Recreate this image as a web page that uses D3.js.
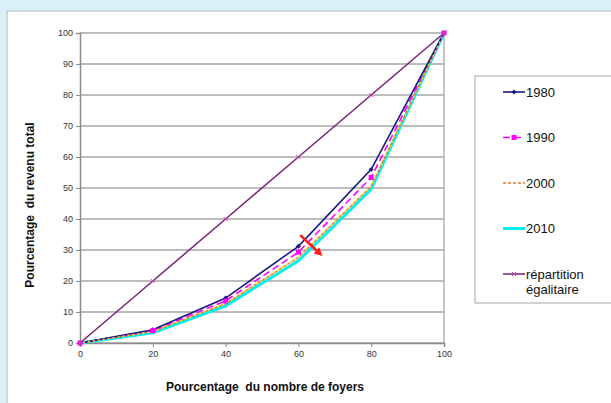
<!DOCTYPE html>
<html>
<head>
<meta charset="utf-8">
<script src="https://cdn.jsdelivr.net/npm/d3@7"></script>
<style>
  body { margin: 0; background: #d9f2f7; }
  svg { display: block; font-family: "Liberation Sans", Arial, sans-serif; }
</style>
</head>
<body>
<div class="chart"></div>
<script>
// data
const xValues = [0, 20, 40, 60, 80, 100];
const s1980 = [0, 4.3, 14.5, 31.2, 56, 100];
const s1990 = [0, 4.0, 13.6, 29.3, 53.4, 100];
const s2000 = [0, 3.7, 12.7, 27.6, 50.6, 100];
const s2010 = [0, 3.3, 12.0, 26.5, 49.6, 100];
const sEgal = [0, 20, 40, 60, 80, 100];
const yTicks = [0, 10, 20, 30, 40, 50, 60, 70, 80, 90, 100];
const xTicks = [0, 20, 40, 60, 80, 100];

let chart = {};

chart.series = [
  { name: "1980", values: s1980, color: "#1a1a80", width: 1.6, dash: null, marker: "diamond" },
  { name: "1990", values: s1990, color: "#ff00ff", width: 1.6, dash: "7,4", marker: "square" },
  { name: "2000", values: s2000, color: "#f07830", width: 1.4, dash: "3,2", marker: null },
  { name: "2010", values: s2010, color: "#00f0f0", width: 3, dash: null, marker: null },
  { name: "répartition\négalitaire", values: sEgal, color: "#7a1f74", width: 1.5, dash: null, marker: "tick" }
];

chart.width = 611;
chart.height = 403;

chart.svg = d3.select(".chart").append("svg")
  .attr("width", chart.width)
  .attr("height", chart.height);

// white panel
chart.svg.append("rect")
  .attr("x", 7).attr("y", 11)
  .attr("width", 620).attr("height", 410)
  .attr("fill", "#fff")
  .attr("stroke", "#b5b5b5");

chart.x = d3.scaleLinear().domain([0, 100]).range([80, 444]);
chart.y = d3.scaleLinear().domain([0, 100]).range([343, 33]);

// grid lines
chart.svg.append("g").selectAll("line")
  .data(yTicks).enter().append("line")
  .attr("x1", chart.x(0)).attr("x2", chart.x(100))
  .attr("y1", d => chart.y(d)).attr("y2", d => chart.y(d))
  .attr("stroke", "#a6a6a6").attr("stroke-width", 1.3);

// right border of plot
chart.svg.append("line")
  .attr("x1", chart.x(100)).attr("x2", chart.x(100))
  .attr("y1", chart.y(0)).attr("y2", chart.y(100))
  .attr("stroke", "#a6a6a6").attr("stroke-width", 1.3);

// axes
let yAxis = chart.svg.append("g")
  .attr("transform", `translate(${chart.x(0)},0)`)
  .call(d3.axisLeft(chart.y).tickValues(yTicks).tickSize(4).tickPadding(3));
let xAxis = chart.svg.append("g")
  .attr("transform", `translate(0,${chart.y(0)})`)
  .call(d3.axisBottom(chart.x).tickValues(xTicks).tickSize(4).tickPadding(4));

[xAxis, yAxis].forEach(a => {
  a.select(".domain").attr("stroke", "#8c8c8c").attr("stroke-width", 1.5);
  a.selectAll(".tick line").attr("stroke", "#8c8c8c");
  a.selectAll(".tick text").attr("font-size", 9).attr("fill", "#333")
    .attr("font-family", "Liberation Sans, Arial, sans-serif");
});

// lines
let line = d3.line()
  .x((d, i) => chart.x(xValues[i]))
  .y(d => chart.y(d));

chart.series.slice().reverse().forEach(s => {
  chart.svg.append("path")
    .datum(s.values)
    .attr("d", line)
    .attr("fill", "none")
    .attr("stroke", s.color)
    .attr("stroke-width", s.width)
    .attr("stroke-dasharray", s.dash);
});

// yellow fill between orange dashes of 2000
chart.svg.append("path")
  .datum(s2000)
  .attr("d", line)
  .attr("fill", "none")
  .attr("stroke", "#ffd700")
  .attr("stroke-width", 1.4)
  .attr("stroke-dasharray", "2,3")
  .attr("stroke-dashoffset", -3);

function drawMarker(g, s, cx, cy) {
  if (s.marker === "diamond") {
    g.append("path")
      .attr("d", `M${cx},${cy - 2.5}L${cx + 2.5},${cy}L${cx},${cy + 2.5}L${cx - 2.5},${cy}Z`)
      .attr("fill", s.color);
  } else if (s.marker === "square") {
    g.append("rect")
      .attr("x", cx - 2.5).attr("y", cy - 2.5)
      .attr("width", 5).attr("height", 5)
      .attr("fill", s.color);
  } else if (s.marker === "tick") {
    g.append("path")
      .attr("d", `M${cx - 2},${cy - 2}L${cx + 2},${cy + 2}M${cx - 2},${cy + 2}L${cx + 2},${cy - 2}`)
      .attr("stroke", "#c040b0").attr("stroke-width", 1);
  }
}

let markers = chart.svg.append("g");
chart.series.forEach(s => {
  s.values.forEach((v, i) => {
    drawMarker(markers, s, chart.x(xValues[i]), chart.y(v));
  });
});

// red arrow
chart.svg.append("defs").append("marker")
  .attr("id", "arrow")
  .attr("viewBox", "0 0 10 10")
  .attr("refX", 2).attr("refY", 5)
  .attr("markerWidth", 3.2).attr("markerHeight", 3.2)
  .attr("orient", "auto")
  .append("path")
  .attr("d", "M0,0L10,5L0,10Z")
  .attr("fill", "#ff1a1a");

chart.svg.append("line")
  .attr("x1", chart.x(60.5)).attr("y1", chart.y(34.8))
  .attr("x2", chart.x(65.3)).attr("y2", chart.y(29.5))
  .attr("stroke", "#ff1a1a")
  .attr("stroke-width", 2.6)
  .attr("marker-end", "url(#arrow)");

// axis titles
chart.svg.append("text")
  .attr("x", 265).attr("y", 391)
  .attr("text-anchor", "middle")
  .attr("font-size", 12).attr("font-weight", "bold")
  .attr("fill", "#111")
  .style("white-space", "pre")
  .text("Pourcentage  du nombre de foyers");

chart.svg.append("text")
  .attr("transform", "translate(34,205) rotate(-90)")
  .attr("text-anchor", "middle")
  .attr("font-size", 12).attr("font-weight", "bold")
  .attr("fill", "#111")
  .style("white-space", "pre")
  .text("Pourcentage  du revenu total");

// legend
let legend = chart.svg.append("g");
legend.append("rect")
  .attr("x", 475).attr("y", 76)
  .attr("width", 150).attr("height", 227)
  .attr("fill", "#fff")
  .attr("stroke", "#a6a6a6");

chart.series.forEach((s, i) => {
  let ly = 92 + i * 45.5;
  legend.append("line")
    .attr("x1", 503).attr("x2", 525)
    .attr("y1", ly).attr("y2", ly)
    .attr("stroke", s.color)
    .attr("stroke-width", s.width)
    .attr("stroke-dasharray", s.dash);
  drawMarker(legend, s, 514, ly);
  let t = legend.append("text")
    .attr("x", 526).attr("y", ly + 4.5)
    .attr("font-size", 13)
    .attr("fill", "#111");
  s.name.split("\n").forEach((part, j) => {
    t.append("tspan").attr("x", 526).attr("dy", j === 0 ? 0 : 15).text(part);
  });
});
</script>
</body>
</html>
